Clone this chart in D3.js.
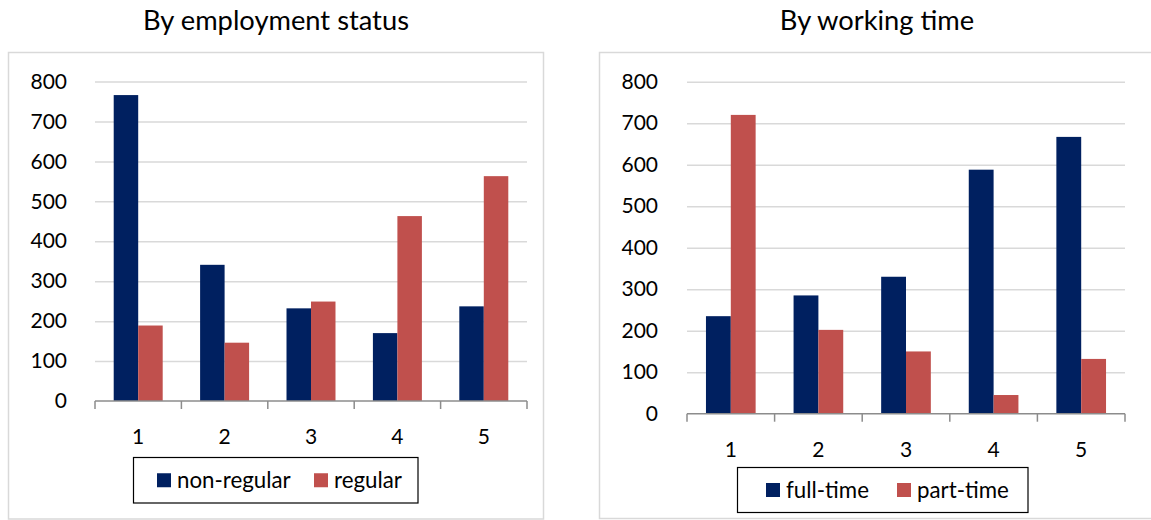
<!DOCTYPE html>
<html>
<head>
<meta charset="utf-8">
<script src="https://cdn.jsdelivr.net/npm/d3@7"></script>
<style>
  html, body { margin: 0; padding: 0; background: #ffffff; }
  svg { display: block; }
  text { font-family: Lato, "Open Sans", sans-serif; fill: #000; }
</style>
</head>
<body>
<svg id="chart" width="1151" height="520"></svg>
<script>
// ---- data ----
const categories = ["1", "2", "3", "4", "5"];
const yTicks = [0, 100, 200, 300, 400, 500, 600, 700, 800];

const employmentTitle = "By employment status";
const employmentSeries = ["non-regular", "regular"];
const nonRegular = [766, 341, 232, 170, 237];
const regular = [189, 146, 249, 463, 563];

const workingTitle = "By working time";
const workingSeries = ["full-time", "part-time"];
const fullTime = [235, 285, 330, 588, 667];
const partTime = [720, 202, 150, 45, 132];

const seriesColors = ["#002060", "#c0504d"];

// ---- drawing ----
const svg = d3.select("#chart");
const FONT_TICK = 21, FONT_TITLE = 27.3, FONT_LEGEND = 22.3;

function drawPanel(cfg) {
  const g = svg.append("g");
  // panel border
  g.append("rect")
    .attr("x", cfg.panel[0]).attr("y", cfg.panel[1])
    .attr("width", cfg.panel[2]).attr("height", cfg.panel[3])
    .attr("fill", "none").attr("stroke", "#d9d9d9").attr("stroke-width", 1.5);

  // title
  g.append("text")
    .attr("x", cfg.titleX).attr("y", cfg.titleY)
    .attr("text-anchor", "middle")
    .style("font-size", FONT_TITLE + "px")
    .text(cfg.title);

  const x = d3.scaleBand().domain(categories)
    .range([cfg.x0, cfg.x1]).paddingInner(0.433).paddingOuter(0.2165);
  const xs = d3.scaleBand().domain(cfg.series).range([0, x.bandwidth()]);
  const y = d3.scaleLinear().domain([0, 800]).range([cfg.y0, cfg.y1]);

  // gridlines
  g.append("g")
    .attr("transform", `translate(${cfg.x0},0)`)
    .call(d3.axisLeft(y).tickValues(yTicks.filter(v => v > 0))
      .tickSize(-(cfg.x1 - cfg.x0)).tickFormat(""))
    .call(a => a.select(".domain").remove())
    .call(a => a.selectAll("line").attr("stroke", "#d9d9d9").attr("stroke-width", 1.5));

  // y labels
  g.append("g")
    .attr("transform", `translate(${cfg.x0},0)`)
    .call(d3.axisLeft(y).tickValues(yTicks).tickSize(0).tickPadding(cfg.labelPad))
    .call(a => a.select(".domain").remove())
    .call(a => a.selectAll("text")
      .style("font-size", FONT_TICK + "px")
      .style("font-family", "Lato, sans-serif")
      .attr("fill", "#000"));

  // bars
  const rows = categories.map((c, i) => ({ c, vals: cfg.values.map(v => v[i]) }));
  const grp = g.append("g").selectAll("g").data(rows).join("g")
    .attr("transform", d => `translate(${x(d.c)},0)`);
  grp.selectAll("rect")
    .data(d => d.vals.map((v, k) => ({ s: cfg.series[k], v, k })))
    .join("rect")
    .attr("x", d => xs(d.s))
    .attr("width", xs.bandwidth())
    .attr("y", d => y(d.v))
    .attr("height", d => y(0) - y(d.v))
    .attr("fill", d => seriesColors[d.k]);

  // x axis line & ticks
  const step = x.step();
  const ax = g.append("g");
  ax.append("line")
    .attr("x1", cfg.x0).attr("x2", cfg.x1)
    .attr("y1", y(0)).attr("y2", y(0))
    .attr("stroke", "#8c8c8c").attr("stroke-width", 1.5);
  ax.selectAll("line.tk").data(d3.range(categories.length + 1)).join("line")
    .attr("class", "tk")
    .attr("x1", i => cfg.x0 + i * step).attr("x2", i => cfg.x0 + i * step)
    .attr("y1", y(0)).attr("y2", y(0) + 8)
    .attr("stroke", "#8c8c8c").attr("stroke-width", 1.5);
  ax.selectAll("text").data(categories).join("text")
    .attr("x", c => x(c) + x.bandwidth() / 2)
    .attr("y", cfg.catBaseline)
    .attr("text-anchor", "middle")
    .style("font-size", FONT_TICK + "px")
    .text(c => c);

  // legend
  const lg = g.append("g");
  lg.append("rect")
    .attr("x", cfg.legend[0]).attr("y", cfg.legend[1])
    .attr("width", cfg.legend[2]).attr("height", cfg.legend[3])
    .attr("fill", "#fff").attr("stroke", "#000").attr("stroke-width", 1.2);
  cfg.series.forEach((s, k) => {
    const sx = cfg.legendItems[k];
    const cy = cfg.legend[1] + cfg.legend[3] / 2;
    lg.append("rect")
      .attr("x", sx).attr("y", cy - 7).attr("width", 14).attr("height", 14)
      .attr("fill", seriesColors[k]);
    lg.append("text")
      .attr("x", sx + 20).attr("y", cy + 7.5)
      .style("font-size", FONT_LEGEND + "px")
      .text(s);
  });
}

drawPanel({
  panel: [8.5, 52.5, 535, 466.5],
  title: employmentTitle, titleX: 276, titleY: 30,
  x0: 95, x1: 527, y0: 401, y1: 81.5, labelPad: 28,
  catBaseline: 444,
  series: employmentSeries, values: [nonRegular, regular],
  legend: [133.5, 457.5, 284.5, 45.5],
  legendItems: [157, 314]
});

drawPanel({
  panel: [599.5, 52.5, 600, 466],
  title: workingTitle, titleX: 877, titleY: 30,
  x0: 687, x1: 1125, y0: 413.7, y1: 81.7, labelPad: 29,
  catBaseline: 456.5,
  series: workingSeries, values: [fullTime, partTime],
  legend: [737.5, 467.5, 290.5, 45],
  legendItems: [766, 897]
});
</script>
</body>
</html>
